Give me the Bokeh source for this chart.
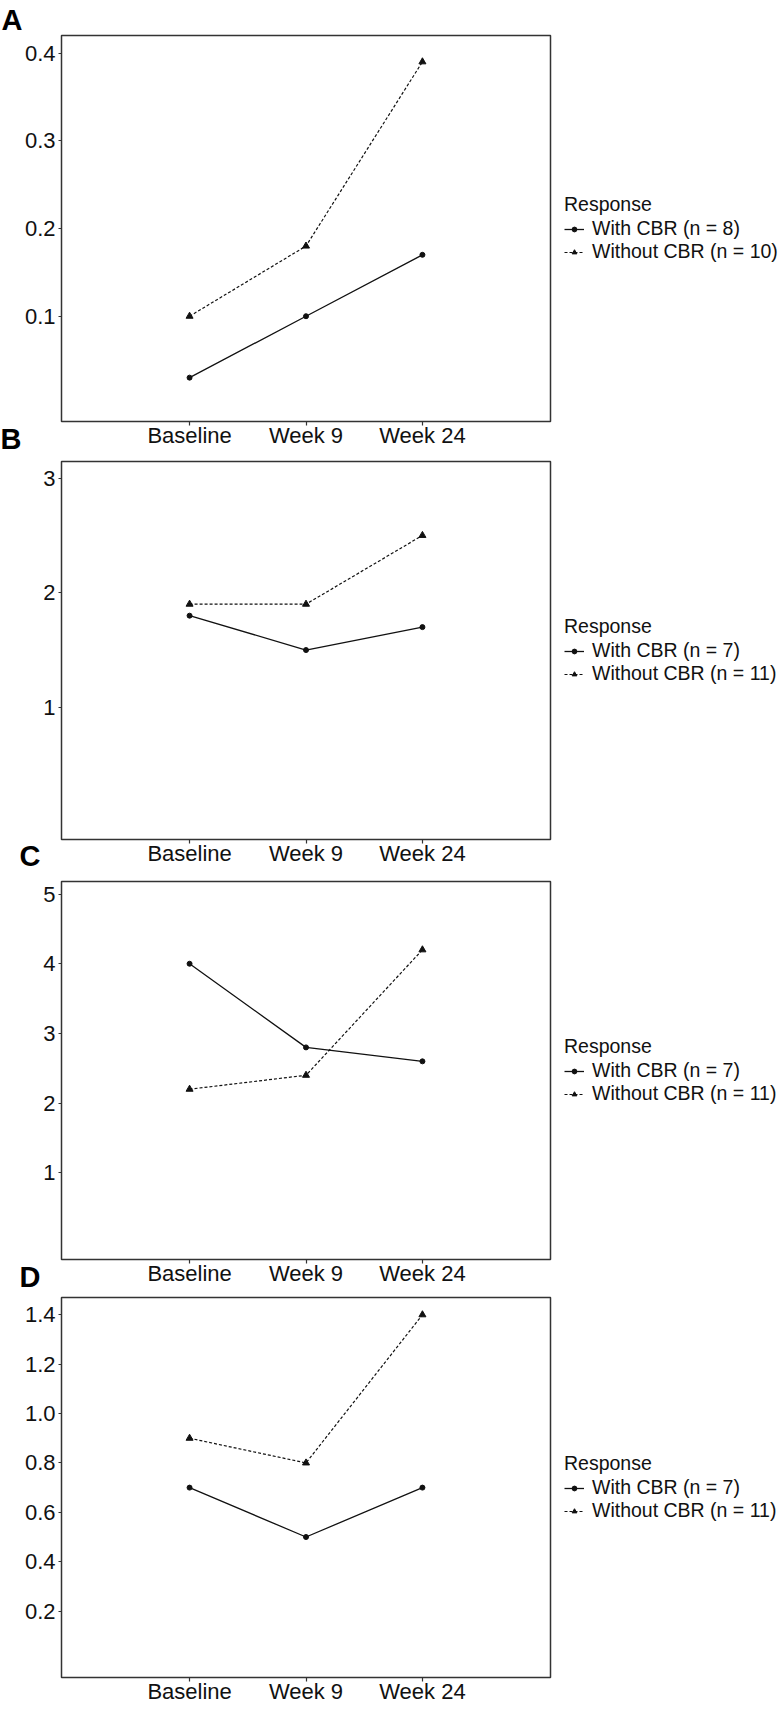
from bokeh.plotting import figure
from bokeh.models import (FactorRange, Range1d, FixedTicker, PrintfTickFormatter,
                          Legend, LegendItem, Label, Title)
from bokeh.layouts import column
from bokeh.embed import file_html
from bokeh.resources import INLINE

# ---------------- data ----------------
categories = ["Baseline", "Week 9", "Week 24"]
legend_title = "Response"
series_names = ["With CBR", "Without CBR"]
panel_letters = ["A", "B", "C", "D"]

a_with = [0.03, 0.10, 0.17]
a_without = [0.10, 0.18, 0.39]
a_n = [8, 10]
a_ticks = [0.1, 0.2, 0.3, 0.4]

b_with = [1.8, 1.5, 1.7]
b_without = [1.9, 1.9, 2.5]
b_n = [7, 11]
b_ticks = [1, 2, 3]

c_with = [4.0, 2.8, 2.6]
c_without = [2.2, 2.4, 4.2]
c_n = [7, 11]
c_ticks = [1, 2, 3, 4, 5]

d_with = [0.7, 0.5, 0.7]
d_without = [0.9, 0.8, 1.4]
d_n = [7, 11]
d_ticks = [0.2, 0.4, 0.6, 0.8, 1.0, 1.2, 1.4]

FONT = "Liberation Sans"
INK = "#111111"


def make_panel(with_vals, without_vals, n_pair, ticks, fmt, yrange,
               frame_h, b_top, b_bottom):
    p = figure(x_range=FactorRange(factors=categories, range_padding=0.6,
                                   range_padding_units="absolute"),
               y_range=Range1d(*yrange), frame_width=489, frame_height=frame_h,
               title=None, toolbar_location=None, output_backend="svg",
               min_border_left=60, min_border_right=0,
               min_border_top=b_top, min_border_bottom=b_bottom)
    p.outline_line_color = "#333333"
    p.outline_line_width = 1.5
    p.xgrid.visible = False
    p.ygrid.visible = False
    p.background_fill_color = "white"
    p.border_fill_color = "white"

    for ax in (p.xaxis[0], p.yaxis[0]):
        ax.axis_line_color = None
        ax.major_tick_line_color = "#333333"
        ax.major_tick_line_width = 1.2
        ax.major_tick_in = 0
        ax.minor_tick_line_color = None
        ax.major_label_text_font = FONT
        ax.major_label_text_color = INK
    p.xaxis.major_tick_out = 4
    p.xaxis.major_label_standoff = -3
    p.xaxis.major_label_text_font_size = "22px"
    p.yaxis.major_tick_out = 3
    p.yaxis.major_label_standoff = 3
    p.yaxis.major_label_text_font_size = "22px"
    p.yaxis.ticker = FixedTicker(ticks=ticks)
    p.yaxis.formatter = PrintfTickFormatter(format=fmt)

    l1 = p.line(categories, with_vals, line_color=INK, line_width=1.3)
    m1 = p.scatter(categories, with_vals, marker="circle", size=5,
                   fill_color=INK, line_color=INK)
    l2 = p.line(categories, without_vals, line_color=INK, line_width=1.2,
                line_dash="3 2")
    m2 = p.scatter(categories, without_vals, marker="triangle", size=7,
                   fill_color=INK, line_color=INK)

    items = [
        LegendItem(label=f"{series_names[0]} (n = {n_pair[0]})", renderers=[l1, m1]),
        LegendItem(label=f"{series_names[1]} (n = {n_pair[1]})", renderers=[l2, m2]),
    ]
    legend = Legend(items=items, location="center_left", title=legend_title,
                    title_text_font=FONT, title_text_font_size="19.5px",
                    title_text_font_style="normal", title_text_color=INK,
                    title_standoff=1,
                    label_text_font=FONT, label_text_font_size="19.5px",
                    label_text_color=INK, label_text_line_height=0.85,
                    glyph_width=20, glyph_height=12, label_height=12,
                    label_standoff=8, padding=12, margin=14, spacing=0,
                    border_line_color=None, background_fill_alpha=0)
    p.add_layout(legend, "right")
    return p


def add_letter_below(p, txt, y):
    p.add_layout(Label(text=txt, x=0, y=y, x_units="screen", y_units="screen",
                       text_font=FONT, text_font_size="29px",
                       text_font_style="bold", text_color="black",
                       text_baseline="alphabetic", text_align="left"), "left")


pa = make_panel(a_with, a_without, a_n, a_ticks, "%.1f", (-0.02, 0.42), 386, 35, 34)
pb = make_panel(b_with, b_without, b_n, b_ticks, "%d", (-0.153, 3.145), 378, 6, 36)
pc = make_panel(c_with, c_without, c_n, c_ticks, "%d", (-0.243, 5.18), 378, 6, 35)
pd = make_panel(d_with, d_without, d_n, d_ticks, "%.1f", (-0.069, 1.47), 380, 3, 32)

pa.add_layout(Title(text=panel_letters[0], align="left", offset=-60, standoff=0,
                    text_font=FONT, text_font_size="29px", text_font_style="bold",
                    text_color="black"), "above")
add_letter_below(pa, panel_letters[1], -17)
add_letter_below(pb, panel_letters[2], -16)
add_letter_below(pc, panel_letters[3], -17)

layout = column(pa, pb, pc, pd)
open("out.html", "w").write(file_html(layout, INLINE))
